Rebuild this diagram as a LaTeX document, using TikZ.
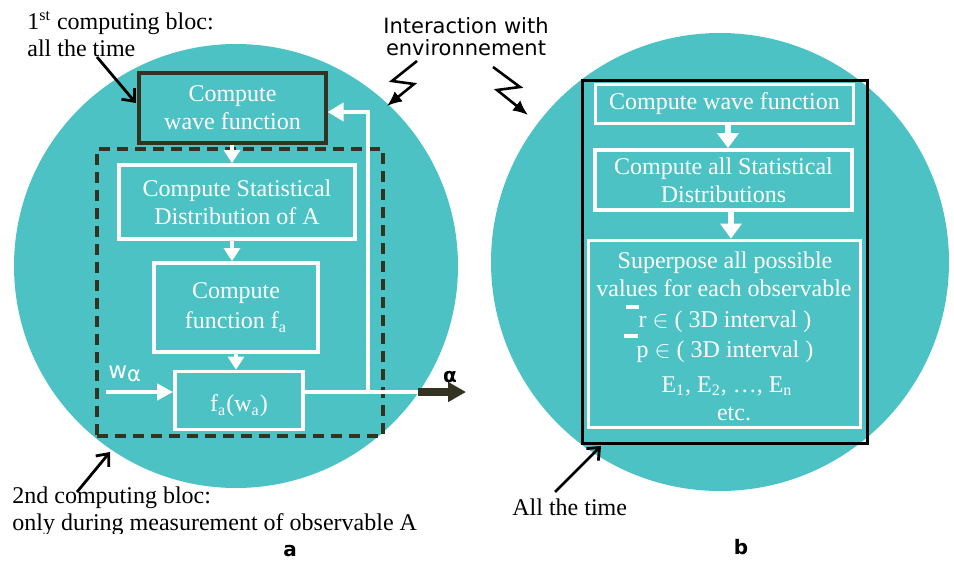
\documentclass[tikz,border=0pt]{standalone}
\usepackage{fontspec}
\setmainfont{Liberation Serif}
\newfontfamily\sansf{DejaVu Sans}
\usetikzlibrary{arrows.meta}
\definecolor{tealc}{RGB}{76,194,196}
\definecolor{darkc}{RGB}{52,50,32}
\begin{document}
\begin{tikzpicture}[x=0.5pt,y=-0.5pt,
  wbox/.style={draw=white, line width=1.9pt, inner sep=0pt, text=white, align=center,
    font=\fontsize{12}{14}\selectfont},
  wtext/.style={text=white, inner sep=0pt, font=\fontsize{12}{14}\selectfont},
  btext/.style={text=black, inner sep=0pt, font=\fontsize{12}{14}\selectfont},
  stext/.style={text=black, inner sep=0pt, font=\sansf\fontsize{10.5}{12}\selectfont},
  warrow/.style={draw=white, line width=2.2pt, -{Triangle[length=6.5pt,width=8pt]}},
  warrowb/.style={draw=white, line width=2.6pt, -{Triangle[length=7.5pt,width=10.5pt]}},
  wline/.style={draw=white, line width=2pt},
  ann/.style={draw=black, line width=1.4pt, -{Straight Barb[length=5pt,width=8.5pt]}},
  zig/.style={draw=black, line width=1.3pt, -{Latex[length=7.5pt,width=6.5pt]}}
]
\useasboundingbox (0,0) rectangle (954,562);
% circles
\fill[tealc] (236,266) circle [radius=111pt];
\fill[tealc] (720,262) circle [radius=114.5pt];

% ---------- panel a ----------
\node[draw=darkc, line width=1.6pt, inner sep=0pt, text=white, align=center,
  font=\fontsize{12}{14}\selectfont, minimum width=93.5pt, minimum height=35pt]
  (wave) at (232.5,108) {Compute\\wave function};
\node[draw=darkc, line width=1.6pt, dash pattern=on 5.5pt off 3.5pt, minimum width=143pt,
  minimum height=143.5pt, inner sep=0pt] (dash) at (240,292.5) {};
\node[wbox, minimum width=118pt, minimum height=37pt] (stat) at (237,202)
  {Compute Statistical\\Distribution of A};
\node[wbox, minimum width=82pt, minimum height=44.5pt] (fa) at (236,307.5)
  {Compute\\[1pt]function f\textsubscript{a}};
\node[wbox, minimum width=64pt, minimum height=29pt, text depth=0pt] (fawa) at (239,400.5)
  {\raisebox{-3pt}{f\textsubscript{a}(w\textsubscript{a})}};

\draw[warrow] (wave.south -| 232,0) -- (stat.north -| 232,0);
\draw[warrow] (stat.south -| 232,0) -- (fa.north -| 232,0);
\draw[warrow] (fa.south -| 236,0) -- (fawa.north -| 236,0);

\coordinate (fb) at (368,392);
\coordinate (fbtop) at (368,112);
\coordinate (outS) at (418,392);
\coordinate (outE) at (466,392);
\coordinate (win) at (106,392);
\draw[wline] (fawa.east |- fb) -- (outS);
\draw[wline, -{Triangle[length=8pt,width=9pt]}] (fb) -- (fbtop) -- (fbtop -| wave.east);
\draw[darkc, line width=4pt, -{Triangle[length=9pt,width=9.5pt]}] (outS) -- (outE);
\draw[white, line width=2.4pt, -{Triangle[length=8pt,width=8pt]}] (win) -- (win -| fawa.west);

\node[text=white, inner sep=0pt, font=\sansf\fontsize{11.5}{12}\selectfont, anchor=base west] (wal) at (108,378)
  {w\raisebox{-1.5pt}{\fontsize{10.5}{12}\selectfont α}};
\node[text=black, inner sep=0pt, font=\sansf\bfseries\fontsize{10}{12}\selectfont, anchor=base] (al) at (450,382) {α};

% labels panel a
\node[btext, anchor=base west] (l1a) at (27,29) {1\textsuperscript{st} computing bloc:};
\node[btext, anchor=base west] (l1b) at (27,56) {all the time};
\coordinate (a1s) at (97,57);
\draw[ann] (a1s) -- ([xshift=-0.8pt,yshift=2.5pt]wave.west);

\node[stext, anchor=base] (inter1) at (466,33) {Interaction with};
\node[stext, anchor=base] (inter2) at (466,55) {environnement};
\coordinate (z1a) at (417,61);
\coordinate (z1b) at (392,81);
\coordinate (z1c) at (414,84);
\coordinate (z1d) at (387,106);
\draw[zig] (z1a) -- (z1b) -- (z1c) -- (z1d);
\coordinate (z2a) at (493,67);
\coordinate (z2b) at (520,87);
\coordinate (z2c) at (497,90);
\coordinate (z2d) at (528,115);
\draw[zig] (z2a) -- (z2b) -- (z2c) -- (z2d);

\begin{scope}
\clip (0,460) rectangle (954,533);
\node[btext, anchor=base west] (l2a) at (12,503) {2nd computing bloc:};
\node[btext, anchor=base west] (l2b) at (12,530) {only during measurement of observable A};
\end{scope}
\coordinate (a2s) at (77,492);
\coordinate (a2e) at (110,452);
\draw[ann] (a2s) -- (a2e);

\node[font=\sansf\bfseries\fontsize{10}{12}\selectfont, inner sep=0pt, anchor=base] (la) at (290,556) {a};

% ---------- panel b ----------
\node[draw=black, line width=1.5pt, minimum width=142.5pt, minimum height=181.5pt, inner sep=0pt]
  (rall) at (724.5,261.5) {};
\node[wbox, minimum width=129pt, minimum height=19.5pt] (rwave) at (724.5,104) {Compute wave function};
\node[wbox, minimum width=128.5pt, minimum height=30pt] (rstat) at (723.5,180)
  {Compute all Statistical\\Distributions};
\node[wbox, minimum width=136pt, minimum height=93.5pt] (rsup) at (724.5,334) {};
\draw[warrowb] (rwave.south -| 728,0) -- (rstat.north -| 728,0);
\draw[warrowb] (rstat.south -| 731,0) -- (rsup.north -| 731,0);

\node[wtext, anchor=base] (s1) at (725,268) {Superpose all possible};
\node[wtext, anchor=base] (s2) at (724,296) {values for each observable};
\node[wtext, anchor=base] (s3) at (725,327) {r $\in$ ( 3D interval )};
\node[wtext, anchor=base] (s4) at (725,357) {p $\in$ ( 3D interval )};
\node[wtext, anchor=base] (s5) at (727,392) {E\textsubscript{1}, E\textsubscript{2}, …, E\textsubscript{n}};
\node[wtext, anchor=base] (s6) at (734,420) {etc.};
\fill[white] (626,305) rectangle (639,309);
\fill[white] (624,334) rectangle (638,338);

\node[btext, anchor=base west] (lall) at (512,515) {All the time};
\coordinate (a3s) at (555,492);
\coordinate (a3e) at (601,446);
\draw[ann] (a3s) -- (a3e);

\node[font=\sansf\bfseries\fontsize{10}{12}\selectfont, inner sep=0pt, anchor=base] (lb) at (741,554) {b};
\end{tikzpicture}
\end{document}
